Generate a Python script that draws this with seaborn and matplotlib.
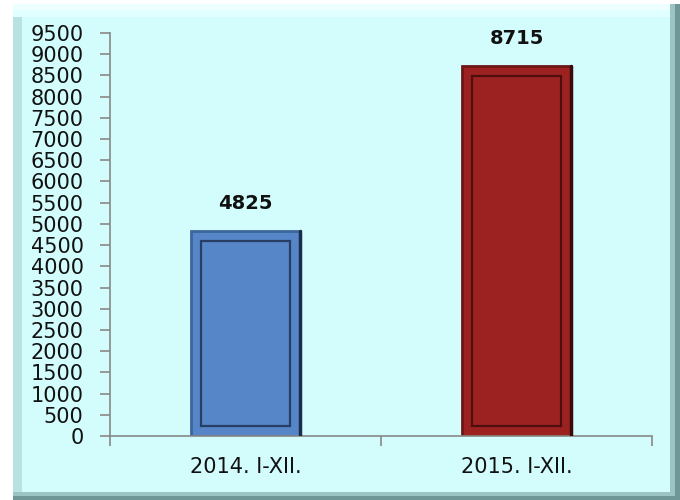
import matplotlib
matplotlib.use("Agg")
import matplotlib.pyplot as plt
import seaborn as sns
import pandas as pd
from matplotlib.patches import Rectangle
from matplotlib.ticker import FixedLocator

categories = ["2014. I-XII.", "2015. I-XII."]
values = [4825, 8715]
bar_colors = ["#5686C8", "#9C2222"]
edge_colors = ["#3C659C", "#6E1515"]
inner_colors = ["#1A2E4A", "#3A0A0A"]
yticks = list(range(0, 9501, 500))

sns.set_theme(style="white")
plt.rcParams['font.family'] = ['DejaVu Sans']

W, H = 680, 500
fig = plt.figure(figsize=(6.8, 5.0), dpi=100)
fig.patch.set_facecolor("white")


def panel(x0, y0, x1, y1, color, z):
    fig.patches.append(Rectangle((x0 / W, 1 - y1 / H), (x1 - x0) / W, (y1 - y0) / H,
                                 transform=fig.transFigure, facecolor=color,
                                 edgecolor="none", zorder=z))


# background panel with a bevel-like border
panel(13, 4, 680, 500, "#6F9797", -6)
panel(13, 4, 675, 496, "#9CC4C4", -5)
panel(13, 4, 670, 492, "#B8E2E2", -4)
panel(13, 4, 670, 17, "#EEFFFF", -3)
panel(13, 10, 670, 17, "#E0FFFF", -2)
panel(22, 17, 670, 492, "#D3FCFC", -1)

ax = fig.add_axes([110 / W, 1 - 436 / H, 542 / W, (436 - 33) / H])
ax.set_facecolor("none")
ax.set_zorder(2)

df = pd.DataFrame({"cat": categories, "val": values})
sns.barplot(data=df, x="cat", y="val", hue="cat", palette=bar_colors, legend=False,
            width=0.405, ax=ax, saturation=1)
ax.set_xlim(-0.5, 1.5)
ax.set_ylim(0, 9500)

# bevel-like inner frame derived from each bar's geometry
dx = 10 / 271.0
dy = 10 / (403 / 9500.0)
for p, ec, ic in zip(list(ax.patches), edge_colors, inner_colors):
    p.set_edgecolor(ec)
    p.set_linewidth(2)
    x, y, w, h = p.get_x(), p.get_y(), p.get_width(), p.get_height()
    ax.add_patch(Rectangle((x + dx, y + dy), w - 2 * dx, h - 2 * dy, facecolor="none",
                           edgecolor=ic, linewidth=1.6, alpha=0.8, zorder=3))
    ax.plot([x + w, x + w], [y, y + h], color=ic, linewidth=2.5, zorder=3)

for i, v in enumerate(values):
    ax.text(i, v + 440, f"{v}", ha="center", va="bottom", fontsize=14,
            fontweight="bold", color="#111111")

ax.set_yticks(yticks)
ax.set_yticklabels([str(t) for t in yticks], fontsize=15, color="#111111")
ax.tick_params(axis="y", left=True, length=7, width=1.2, color="#888888", pad=12)
ax.tick_params(axis="x", which="major", bottom=False, length=0, labelsize=15, pad=15,
               labelcolor="#111111")
ax.xaxis.set_minor_locator(FixedLocator([-0.5, 0.5, 1.5]))
ax.tick_params(axis="x", which="minor", bottom=True, length=7, width=1.2, color="#888888")
ax.set_xlabel("")
ax.set_ylabel("")
for s in ["top", "right"]:
    ax.spines[s].set_visible(False)
for s in ["left", "bottom"]:
    ax.spines[s].set_color("#888888")
    ax.spines[s].set_linewidth(1.2)

fig.savefig("out.png", dpi=100)
